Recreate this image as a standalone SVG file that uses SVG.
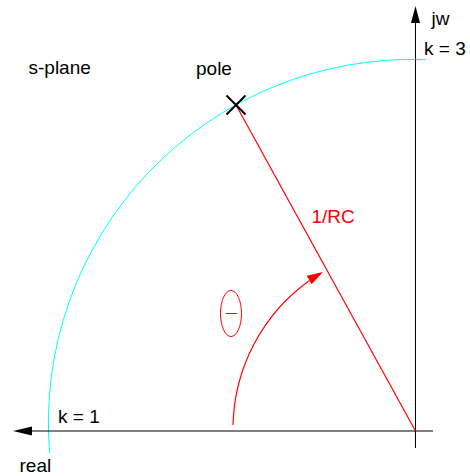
<svg xmlns="http://www.w3.org/2000/svg" width="470" height="476" viewBox="0 0 470 476">
<style>
text{font-family:"Liberation Sans",Arial,sans-serif;font-size:19px;fill:#000}
.red{fill:#ff0000}
.ax{stroke:#000;stroke-width:1;fill:none}
</style>
<rect width="470" height="476" fill="#fff"/>
<g id="connectors">
<path id="circle-k" d="M49.6 453 A363.6 363.6 0 0 1 426 59.7" fill="none" stroke="#00ffff" stroke-width="1"/>
<line id="real-axis" class="ax" x1="30" y1="431" x2="433" y2="431"/>
<polygon points="13,431 32,426.5 32,435.5" fill="#000"/>
<line id="jw-axis" class="ax" x1="415.5" y1="20" x2="415.5" y2="448"/>
<polygon points="415.5,6 411,23 420,23" fill="#000"/>
<line id="radius" x1="236" y1="105" x2="415.5" y2="431" stroke="#ff0000" stroke-width="1.2"/>
<path id="angle-arc" d="M233 425 A183 183 0 0 1 309.5 280.5" fill="none" stroke="#ff0000" stroke-width="1.2"/>
<polygon points="323,272 311.7,284.3 306.7,275.7" fill="#ff0000"/>
</g>
<g id="pole">
<path d="M226.5 95.5 L245.5 114.5 M245.5 95.5 L226.5 114.5" stroke="#000" stroke-width="2"/>
<text x="196" y="75">pole</text>
</g>
<g id="theta">
<ellipse cx="231" cy="313.5" rx="10.5" ry="23" fill="none" stroke="#ff0000" stroke-width="1"/>
<line x1="226" y1="313.5" x2="237" y2="313.5" stroke="#ff0000" stroke-width="1"/>
</g>
<g id="labels">
<text x="28.5" y="74">s-plane</text>
<text x="431.5" y="25">jw</text>
<text x="424" y="55">k = 3</text>
<text class="red" x="311.5" y="222.5">1/RC</text>
<text x="58" y="423">k = 1</text>
<text x="19.5" y="471.5">real</text>
</g>
</svg>
